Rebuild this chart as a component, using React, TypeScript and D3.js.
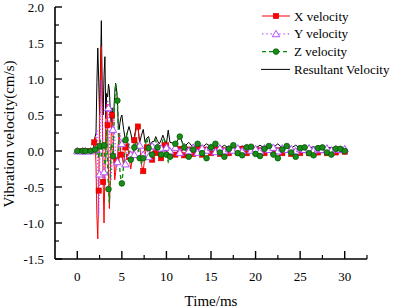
import React from 'react';
import * as d3 from 'd3';

// sample times (ms)
const time = [
  0, 0.3, 0.6, 0.9, 1.2, 1.5, 1.8,
  1.9, 2.0, 2.1, 2.2, 2.3, 2.4, 2.5, 2.6, 2.7, 2.8, 2.9, 3.0, 3.1, 3.2, 3.3, 3.4, 3.5, 3.6, 3.7, 3.8, 3.9, 4.0,
  4.1, 4.2, 4.3, 4.4, 4.5, 4.6, 4.7, 4.8, 4.9, 5.0,
  5.2, 5.4, 5.6, 5.8, 6.0, 6.2, 6.4, 6.6, 6.8, 7.0, 7.2, 7.4, 7.6, 7.8, 8.0, 8.2, 8.4, 8.6, 8.8, 9.0, 9.2, 9.4,
  9.6, 9.8, 10.0, 10.2, 10.4,
  11.0, 11.5, 12.0, 12.5, 13.0, 13.5, 14.0, 14.5, 15.0, 15.5, 16.0, 16.5, 17.0, 17.5, 18.0, 18.5, 19.0, 19.5,
  20.0, 20.5, 21.0, 21.5, 22.0, 22.5, 23.0, 23.5, 24.0, 24.5, 25.0, 25.5, 26.0, 26.5, 27.0, 27.5, 28.0, 28.5,
  29.0, 29.5, 30.0,
];

const xVelocity = [
  0, 0, 0, 0, 0, 0, 0,
  0.12, 0.19, -0.2, -0.9, -1.22, -0.55, 0.4, 1.0, 1.45, 0.6, -0.43, -1.0, -0.3, 0.4, 0.65, 0.36, -0.3, -0.8, -0.4, 0.2, 0.5, 0.3,
  -0.1, -0.4, -0.3, -0.13, -0.1, 0.1, 0.25, 0.1, -0.05, -0.06,
  -0.2, 0.05, 0.12, -0.08, -0.25, -0.08, 0.15, 0.3, 0.34, 0.1, -0.2, -0.28, -0.05, 0.05, 0.1, -0.05, -0.12, 0.0, -0.03, 0.05, -0.08, -0.1,
  0.05, 0.08, -0.02, 0.12, -0.05,
  -0.05, 0.03, -0.06, 0.02, -0.04, 0.03, -0.05, 0.02, -0.03, 0.02, -0.04, 0.01, -0.03, 0.02, -0.02, 0.03, -0.03, 0.02,
  -0.02, 0.01, -0.03, 0.02, -0.02, 0.01, -0.03, 0.02, -0.04, -0.01, -0.03, 0.01, -0.03, -0.04, -0.02, 0.01, -0.03, 0.0,
  -0.02, 0.01, -0.01,
];

const yVelocity = [
  0, 0, 0, 0, 0, 0, 0,
  0.0, 0.02, 0.1, 0.3, -0.2, -0.9, -0.32, 0.5, 0.98, 0.5, -0.2, -0.29, -0.5, -0.1, 0.4, 0.71, 0.6, 0.1, -0.35, -0.4, -0.1, 0.3,
  0.45, 0.2, -0.1, -0.26, -0.15, 0.05, 0.2, 0.25, 0.15, 0.1,
  -0.1, -0.18, 0.05, 0.12, -0.05, -0.15, -0.05, 0.1, 0.0, 0.08, -0.1, -0.05, 0.1, 0.05, -0.08, 0.02, 0.07, -0.05, 0.03, 0.06, -0.04, 0.04,
  0.07, -0.02, 0.05, 0.08, 0.0,
  0.05, -0.02, 0.06, 0.0, 0.05, -0.02, 0.04, 0.01, 0.05, -0.01, 0.04, 0.0, 0.03, 0.01, 0.04, 0.0, 0.05, 0.01,
  0.03, 0.0, 0.04, 0.02, 0.05, 0.0, 0.04, 0.02, 0.03, 0.0, 0.03, 0.02, 0.04, 0.01, 0.03, 0.02, 0.04, 0.01,
  0.03, 0.02, 0.03,
];

const zVelocity = [
  0, 0, 0, 0, 0, 0, 0,
  0.0, 0.02, 0.05, -0.05, 0.1, -0.1, 0.07, 0.15, -0.1, 0.05, 0.09, 0.08, -0.2, -0.1, 0.3, -0.2, -0.53, -0.72, -0.4, 0.1, 0.05, -0.07,
  0.3, 0.7, 0.93, 0.85, 0.7, 0.3, -0.1, -0.3, -0.4, -0.45,
  -0.2, 0.15, 0.25, 0.01, -0.12, -0.15, 0.05, 0.15, 0.08, -0.1, -0.17, -0.1, 0.05, 0.18, 0.04, -0.08, -0.05, 0.12, 0.15, 0.05, -0.1, -0.05,
  0.18, 0.15, -0.05, -0.15, -0.08,
  0.1, 0.2, 0.05, -0.08, 0.02, 0.1, -0.03, -0.1, 0.05, 0.1, -0.02, -0.08, 0.03, 0.08, -0.03, -0.06, 0.05, 0.06,
  -0.04, -0.07, 0.03, 0.07, -0.05, -0.1, 0.02, 0.07, -0.02, -0.08, 0.04, 0.05, -0.03, -0.06, 0.04, 0.05, -0.02, -0.05,
  0.03, 0.03, 0.0,
];

const resultantVelocity = [
  0.01, 0.01, 0.01, 0.01, 0.01, 0.01, 0.02,
  0.12, 0.2, 0.25, 0.95, 1.43, 1.0, 0.5, 1.1, 1.81, 0.8, 0.5, 1.05, 1.31, 0.45, 0.8, 0.75, 0.93, 0.85, 0.55, 0.4, 0.6, 0.45,
  0.55, 0.8, 0.94, 0.86, 0.7, 0.35, 0.3, 0.4, 0.47, 0.5,
  0.3, 0.15, 0.25, 0.34, 0.25, 0.12, 0.2, 0.33, 0.34, 0.12, 0.22, 0.3, 0.12, 0.18, 0.2, 0.08, 0.13, 0.13, 0.2, 0.14, 0.1, 0.15,
  0.22, 0.15, 0.1, 0.29, 0.12,
  0.1, 0.2, 0.06, 0.12, 0.05, 0.11, 0.05, 0.1, 0.06, 0.1, 0.04, 0.08, 0.04, 0.08, 0.04, 0.07, 0.05, 0.07,
  0.04, 0.08, 0.04, 0.07, 0.05, 0.1, 0.04, 0.07, 0.04, 0.08, 0.04, 0.06, 0.04, 0.06, 0.04, 0.05, 0.04, 0.05,
  0.03, 0.04, 0.03,
];

const xTicks = [0, 5, 10, 15, 20, 25, 30];
const xMinorTicks = [2.5, 7.5, 12.5, 17.5, 22.5, 27.5, 32.5];
const yTicks = [-1.5, -1.0, -0.5, 0.0, 0.5, 1.0, 1.5, 2.0];
const yMinorTicks = [-1.25, -0.75, -0.25, 0.25, 0.75, 1.25, 1.75];
const legendLabels = ['X velocity', 'Y velocity', 'Z velocity', 'Resultant Velocity'];
const xTitle = 'Time/ms';
const yTitle = 'Vibration velocity(cm/s)';

const W = 401;
const H = 308;
const FONT = '"Liberation Serif", "Times New Roman", serif';
const RED = '#ff0000';
const PURPLE = '#b34dff';
const GREEN = '#0a8a0a';

const x = d3.scaleLinear().domain([-2.5, 32.5]).range([55, 367]);
const y = d3.scaleLinear().domain([-1.5, 2.0]).range([259, 7]);

function markerIndices(offset: number, step: number): number[] {
  const out: number[] = [];
  for (let t = offset; t <= 30.01; t += step) {
    let best = 0;
    let bd = Infinity;
    time.forEach((tt, i) => {
      const d = Math.abs(tt - t);
      if (d < bd - 1e-9) { bd = d; best = i; }
    });
    if (bd < step / 2 && !out.includes(best)) out.push(best);
  }
  return out;
}

const lineGen = (vals: number[]) =>
  d3.line<number>().x((_, i) => x(time[i])).y((v) => y(v)).curve(d3.curveLinear)(vals) || '';

const triPath = d3.symbol().type(d3.symbolTriangle).size(24)() || '';

function Square({ cx, cy }: { cx: number; cy: number }) {
  return <rect x={cx - 2.6} y={cy - 2.6} width={5.2} height={5.2} fill={RED} stroke="#cc0000" strokeWidth={0.6} />;
}
function Tri({ cx, cy }: { cx: number; cy: number }) {
  return <path d={triPath} transform={`translate(${cx},${cy + 0.8})`} fill="white" stroke={PURPLE} strokeWidth={1} />;
}
function Circ({ cx, cy }: { cx: number; cy: number }) {
  return <circle cx={cx} cy={cy} r={2.8} fill="#1a8c1a" stroke="#005a00" strokeWidth={0.8} />;
}

export default function App() {
  const redIdx = markerIndices(0.4, 0.5);
  const purIdx = markerIndices(0.0, 0.5);
  const grnIdx = markerIndices(0.0, 0.5);

  return (
    <svg width={W} height={H} style={{ position: 'absolute', left: 0, top: 0, background: 'white' }} fontFamily={FONT}>
      {/* data lines */}
      <path d={lineGen(resultantVelocity)} fill="none" stroke="#000" strokeWidth={1} />
      <path d={lineGen(xVelocity)} fill="none" stroke={RED} strokeWidth={1} />
      <path d={lineGen(yVelocity)} fill="none" stroke={PURPLE} strokeWidth={1.3} strokeDasharray="1.3,2" />
      <path d={lineGen(zVelocity)} fill="none" stroke={GREEN} strokeWidth={1.3} strokeDasharray="4,3" />
      {redIdx.map((i) => <Square key={'r' + i} cx={x(time[i])} cy={y(xVelocity[i])} />)}
      {purIdx.map((i) => <Tri key={'p' + i} cx={x(time[i])} cy={y(yVelocity[i])} />)}
      {grnIdx.map((i) => <Circ key={'g' + i} cx={x(time[i])} cy={y(zVelocity[i])} />)}

      {/* axes */}
      <line x1={55} x2={55} y1={y(2.0)} y2={259} stroke="#000" strokeWidth={1.6} />
      <line x1={55} x2={x(32.5)} y1={259} y2={259} stroke="#000" strokeWidth={1.6} />
      {yTicks.map((t) => (
        <g key={'yt' + t}>
          <line x1={55} x2={62} y1={y(t)} y2={y(t)} stroke="#000" strokeWidth={1.4} />
          <text x={44} y={y(t)} textAnchor="end" dominantBaseline="central" fontSize={13}>
            {t.toFixed(1)}
          </text>
        </g>
      ))}
      {yMinorTicks.map((t) => (
        <line key={'ym' + t} x1={55} x2={59} y1={y(t)} y2={y(t)} stroke="#000" strokeWidth={1.2} />
      ))}
      {xTicks.map((t) => (
        <g key={'xt' + t}>
          <line x1={x(t)} x2={x(t)} y1={259} y2={251} stroke="#000" strokeWidth={1.4} />
          <text x={x(t)} y={281} textAnchor="middle" fontSize={13}>{t}</text>
        </g>
      ))}
      {xMinorTicks.map((t) => (
        <line key={'xm' + t} x1={x(t)} x2={x(t)} y1={259} y2={255} stroke="#000" strokeWidth={1.2} />
      ))}
      <text x={211} y={306} textAnchor="middle" fontSize={15}>{xTitle}</text>
      <text transform="translate(14,134) rotate(-90)" textAnchor="middle" fontSize={15}>{yTitle}</text>

      {/* legend */}
      {legendLabels.map((lab, i) => {
        const ly = 16 + i * 17.8;
        return (
          <g key={lab}>
            {i === 0 && <line x1={262} x2={290} y1={ly} y2={ly} stroke={RED} strokeWidth={1} />}
            {i === 1 && <line x1={262} x2={290} y1={ly} y2={ly} stroke={PURPLE} strokeWidth={1.3} strokeDasharray="1.3,3" />}
            {i === 2 && <line x1={262} x2={290} y1={ly} y2={ly} stroke={GREEN} strokeWidth={1.3} strokeDasharray="4,3" />}
            {i === 3 && <line x1={261} x2={290} y1={ly} y2={ly} stroke="#000" strokeWidth={1} />}
            {i === 0 && <Square cx={276} cy={ly} />}
            {i === 1 && <Tri cx={276} cy={ly} />}
            {i === 2 && <Circ cx={276} cy={ly} />}
            <text x={294} y={ly} dominantBaseline="central" fontSize={13}>{lab}</text>
          </g>
        );
      })}
    </svg>
  );
}
